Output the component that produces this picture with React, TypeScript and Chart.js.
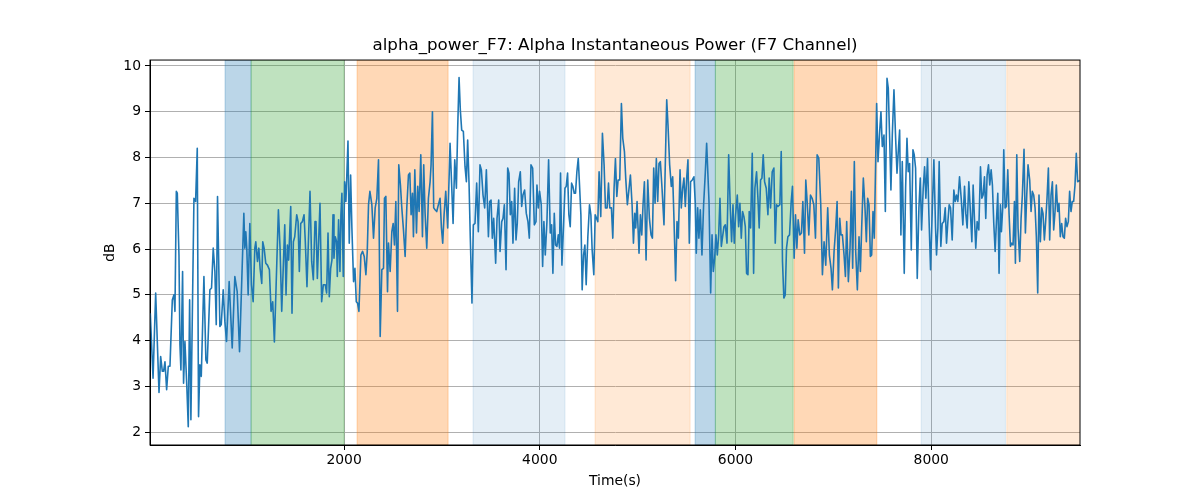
import React, { useEffect, useRef } from 'react';
import Chart from 'chart.js/auto';

// time (s) of each sample
const times = [
  20, 48, 75, 109, 126, 143, 156, 170, 187, 204, 221, 245, 262, 272, 286, 296, 313, 323, 333, 350,
  360, 374, 394, 408, 422, 435, 466, 483, 500, 513, 527, 541, 568, 588, 602, 629, 646, 663, 680, 694,
  707, 731, 745, 765, 782, 799, 826, 857, 884, 908, 932, 976, 986, 996, 1006, 1020, 1037, 1054, 1071, 1088,
  1098, 1115, 1129,
  1142, 1159, 1169, 1183, 1200, 1217, 1237, 1254, 1271, 1288, 1305, 1329, 1346, 1363, 1394, 1407, 1421, 1434, 1455, 1468,
  1482, 1496, 1516, 1530, 1543, 1557, 1574, 1591, 1604, 1621, 1652, 1669, 1686, 1703, 1713, 1727, 1754, 1771, 1788, 1808,
  1822, 1836, 1849, 1863, 1876, 1887, 1897, 1910, 1924, 1931, 1944, 1958, 1968, 1978, 1992, 2006, 2019, 2040, 2053, 2067,
  2080, 2097, 2111, 2125, 2138, 2152, 2172, 2189, 2206, 2223, 2237, 2250, 2264,
  2284, 2301, 2318, 2335, 2352, 2369, 2386, 2403, 2413, 2427, 2444, 2454, 2471, 2488, 2502, 2515, 2529, 2546, 2559, 2576,
  2590, 2607, 2624, 2641, 2658, 2672, 2685, 2699, 2709, 2723, 2740, 2753, 2767, 2784, 2801, 2814, 2828, 2845, 2862, 2879,
  2889, 2903, 2916, 2930, 2947, 2964, 2981, 2995, 3008, 3022, 3039, 3059, 3083, 3100, 3114, 3131, 3148, 3161, 3175, 3188,
  3202, 3219, 3236, 3250, 3263, 3277, 3290, 3307, 3321, 3338, 3355, 3372, 3389, 3403, 3420, 3437,
  3454, 3475, 3488, 3502, 3515, 3529, 3549, 3563, 3580, 3594, 3611, 3624, 3638, 3655, 3672, 3685, 3699, 3713, 3726, 3743,
  3757, 3770, 3784, 3801, 3815, 3828, 3845, 3862, 3879, 3893, 3910, 3927, 3944, 3961, 3971, 3985, 3998, 4015, 4029, 4042,
  4056, 4073, 4090, 4107, 4121, 4134, 4148, 4161, 4175, 4189, 4202, 4212, 4226, 4243, 4257, 4270, 4284, 4297, 4311, 4325,
  4338, 4352, 4365, 4379, 4393, 4406, 4420, 4433, 4447, 4461, 4474, 4491, 4508, 4522, 4535, 4552, 4566,
  4593, 4606, 4623, 4640, 4657, 4671, 4688, 4702, 4715, 4732, 4746, 4759, 4773, 4787, 4800, 4817, 4834, 4848, 4865, 4878,
  4895, 4909, 4926, 4943, 4957, 4970, 4980, 4994, 5004, 5014, 5028, 5042, 5055, 5069, 5086, 5103, 5120, 5137, 5151, 5164,
  5178, 5191, 5205, 5218, 5232, 5249, 5269, 5283, 5297, 5310, 5327, 5344, 5358, 5371, 5388, 5402, 5416, 5433, 5446, 5460,
  5473, 5487, 5501, 5514, 5528, 5541, 5558, 5575, 5589, 5599, 5613, 5626, 5640, 5657, 5674, 5691, 5705,
  5729, 5746, 5760, 5773, 5787, 5800, 5814, 5828, 5841, 5855, 5868, 5882, 5896, 5913, 5930, 5947, 5960, 5974, 5987, 6001,
  6018, 6032, 6045, 6059, 6072, 6086, 6100, 6113, 6127, 6140, 6154, 6171, 6185, 6198, 6215, 6229, 6242, 6256, 6270, 6283,
  6297, 6314, 6331, 6344, 6358, 6375, 6392, 6406, 6419, 6433, 6453, 6467, 6480, 6494, 6508, 6521, 6535, 6552, 6569, 6582,
  6599, 6613, 6627, 6640, 6657, 6674, 6688, 6705, 6718, 6732, 6749, 6766, 6783, 6800, 6817, 6834, 6851,
  6871, 6888, 6905, 6922, 6942, 6959, 6976, 6990, 7007, 7024, 7038, 7051, 7065, 7078, 7092, 7109, 7123, 7136, 7153, 7170,
  7184, 7197, 7214, 7228, 7245, 7262, 7276, 7289, 7306, 7323, 7337, 7350, 7364, 7378, 7391, 7405, 7418, 7432, 7442, 7456,
  7473, 7486, 7500, 7517, 7531, 7548, 7561, 7575, 7588, 7602, 7619, 7636, 7650, 7663, 7677, 7690, 7704, 7724, 7738, 7752,
  7765, 7779, 7796, 7813, 7826, 7840, 7857, 7874, 7888, 7901, 7918, 7932, 7945, 7962, 7976, 7993, 8010, 8027, 8044, 8054,
  8068, 8081, 8098, 8112,
  8129, 8143, 8156, 8170, 8183, 8197, 8214, 8231, 8245, 8258, 8272, 8289, 8306, 8323, 8340, 8353, 8367, 8384, 8398, 8415,
  8428, 8442, 8455, 8469, 8486, 8503, 8517, 8530, 8544, 8557, 8571, 8585, 8598, 8612, 8625, 8639, 8653, 8666, 8680, 8693,
  8707, 8717, 8731, 8741, 8755, 8768, 8782, 8795, 8809, 8823, 8836, 8850, 8860, 8874, 8887, 8904, 8918, 8931, 8948, 8962,
  8976, 8989, 9006, 9020, 9033, 9047, 9061, 9074, 9088, 9101, 9115, 9129, 9142, 9156, 9169, 9183, 9197, 9210, 9224, 9238,
  9251, 9265, 9278, 9292, 9305, 9319, 9333, 9346, 9360, 9373, 9387, 9401, 9414, 9428, 9441, 9455, 9469, 9482, 9496, 9515,
];

// alpha power in dB, one per entry of times
const power = [
  4.6, 3.18, 5.04, 2.87, 3.65, 3.33, 3.33, 3.54, 2.93, 3.44, 3.44, 4.89, 5.0, 4.64, 7.26, 7.22, 5.87, 3.91, 3.36, 5.51,
  3.07, 3.98, 2.96, 2.12, 4.89, 2.27, 7.11, 7.04, 8.2, 2.34, 3.47, 3.22, 5.4, 3.58, 3.51, 5.11, 5.15, 6.02, 5.51, 4.35,
  7.15, 4.31, 4.35, 5.11, 4.42, 3.98, 5.29, 3.84, 5.4, 5.07, 3.76, 6.78, 6.02, 6.38, 6.02, 5.0, 6.56, 5.22, 4.85, 6.02,
  6.16, 5.73, 6.02,
  5.58, 5.25, 6.16, 6.02, 5.69, 5.65, 5.55, 4.64, 4.85, 3.97, 5.15, 6.86, 6.02, 4.64, 6.53, 5.0, 6.09, 5.76, 6.93, 4.6,
  6.16, 6.27, 6.75, 6.6, 5.51, 6.56, 6.6, 6.75, 6.16, 5.18, 7.26, 5.73, 5.33, 6.6, 6.6, 5.36, 7.0, 4.85, 5.22, 5.22,
  5.04, 6.35, 4.96, 5.58, 5.76, 6.75, 5.8, 6.27, 6.16, 5.4, 6.64, 5.51, 6.75, 7.22, 5.4, 7.47, 7.04, 8.36, 6.13, 7.62,
  6.46, 5.29, 5.58, 4.85, 4.82, 4.64, 5.87, 5.95, 5.84, 5.44, 5.95, 6.97, 7.26,
  6.97, 6.24, 6.9, 7.11, 7.95, 4.09, 5.55, 5.58, 7.11, 7.15, 5.07, 6.13, 5.51, 6.38, 6.56, 6.09, 7.04, 4.64, 7.84, 7.4,
  6.9, 6.42, 5.84, 6.9, 7.62, 7.66, 6.75, 7.22, 6.27, 7.73, 6.35, 7.37, 6.82, 8.06, 6.27, 7.84, 6.78, 6.02, 7.11, 7.47,
  7.84, 9.0, 6.9, 6.86, 6.82, 6.97, 7.11, 6.46, 6.13, 6.75, 7.26, 6.46, 8.31, 7.37, 6.56, 7.95, 7.33, 8.64, 9.75, 9.04,
  8.6, 8.57, 7.8, 7.47, 8.38, 7.44, 6.24, 4.82, 6.53, 6.56, 7.44, 6.38, 7.84, 7.73, 7.18, 6.9,
  7.73, 6.27, 7.04, 7.07, 6.24, 6.67, 5.69, 6.67, 7.07, 5.95, 6.6, 6.67, 6.97, 5.55, 7.77, 7.66, 6.75, 7.04, 6.13, 7.33,
  6.2, 6.56, 7.47, 7.69, 6.93, 7.18, 7.29, 6.78, 6.6, 6.24, 7.84, 7.77, 6.53, 6.6, 7.4, 6.9, 7.26, 6.97, 5.62, 6.6,
  5.87, 6.6, 7.95, 6.35, 6.53, 5.47, 6.78, 6.09, 6.06, 6.31, 6.02, 7.66, 5.65, 6.53, 7.33, 7.37, 7.66, 6.75, 6.49, 7.44,
  7.37, 7.22, 7.22, 7.69, 7.98, 7.4, 6.75, 5.11, 5.87, 6.09, 5.22, 6.27, 6.97, 6.75, 5.98, 5.44, 6.75,
  6.6, 7.69, 6.71, 8.53, 7.84, 6.9, 6.9, 7.44, 6.9, 6.9, 6.24, 7.33, 7.98, 7.15, 7.51, 7.51, 9.18, 8.42, 8.13, 7.55,
  6.97, 7.26, 7.62, 6.97, 6.13, 6.78, 6.46, 7.04, 6.46, 5.91, 6.75, 6.31, 6.97, 7.47, 5.76, 7.51, 6.67, 6.31, 6.24, 7.77,
  7.0, 7.98, 7.04, 7.87, 7.91, 7.33, 6.53, 7.91, 9.26, 8.71, 7.84, 7.37, 7.58, 6.67, 5.31, 6.6, 6.24, 7.73, 6.9, 7.33,
  7.55, 6.93, 7.55, 7.95, 6.13, 7.47, 7.51, 7.58, 7.0, 5.91, 6.9, 6.24, 6.86, 5.87, 6.97, 7.66, 8.31,
  7.04, 5.04, 6.31, 5.51, 5.8, 6.31, 5.87, 6.31, 7.11, 6.06, 6.27, 6.49, 6.53, 6.13, 8.06, 6.86, 6.16, 6.97, 6.13, 6.75,
  7.18, 6.49, 7.0, 6.24, 6.82, 6.71, 6.49, 5.47, 5.44, 6.82, 6.46, 8.09, 5.47, 7.33, 7.69, 7.11, 6.46, 7.51, 7.55, 8.06,
  7.47, 7.33, 6.75, 7.55, 6.9, 7.69, 7.77, 6.13, 6.97, 6.93, 6.97, 8.13, 5.73, 4.93, 5.0, 6.02, 6.27, 6.31, 7.04, 7.37,
  5.8, 6.75, 6.02, 6.64, 6.31, 6.35, 7.04, 5.91, 7.51, 7.04, 6.31, 7.18, 7.11, 6.97, 6.24, 8.06, 7.98,
  6.97, 5.44, 6.16, 5.65, 6.9, 5.87, 5.58, 5.11, 5.95, 6.46, 7.04, 5.15, 6.67, 6.31, 6.31, 5.87, 5.4, 6.6, 5.29, 6.02,
  7.26, 5.58, 7.91, 5.95, 5.11, 6.27, 5.51, 6.46, 7.55, 6.9, 6.16, 7.11, 6.97, 5.84, 5.87, 6.82, 6.24, 7.91, 9.18, 7.91,
  8.57, 9.0, 8.24, 8.49, 6.82, 9.73, 9.51, 8.42, 7.29, 8.49, 9.48, 8.42, 7.66, 8.13, 8.6, 6.31, 7.91, 5.47, 7.33, 8.42,
  7.69, 7.87, 5.98, 8.17, 8.06, 7.77, 5.36, 6.9, 7.55, 6.42, 7.33, 7.8, 7.11, 7.98, 6.75, 5.55, 6.82, 7.95, 6.46, 5.87,
  6.46, 7.91, 6.06, 6.56,
  6.6, 6.9, 6.13, 6.6, 6.97, 6.9, 6.2, 7.29, 7.04, 7.18, 7.04, 7.58, 7.11, 6.53, 7.37, 6.78, 6.46, 7.47, 6.9, 6.16,
  7.4, 6.64, 6.02, 6.6, 6.42, 7.8, 7.11, 7.18, 7.58, 6.67, 7.62, 7.84, 7.4, 7.73, 7.4, 6.56, 5.95, 6.6, 7.22, 5.47,
  6.97, 6.38, 6.93, 8.17, 6.9, 6.93, 7.73, 6.78, 6.06, 6.13, 6.09, 7.04, 5.69, 8.06, 6.46, 5.73, 6.67, 7.18, 8.18, 6.35,
  7.18, 7.84, 7.51, 6.82, 7.26, 7.18, 6.9, 6.27, 5.04, 7.18, 6.16, 6.9, 6.78, 6.2, 6.6, 7.11, 7.77, 6.2, 7.18, 7.47,
  6.42, 6.82, 7.4, 6.82, 7.0, 6.27, 6.56, 6.27, 6.24, 6.67, 6.49, 6.6, 7.26, 6.82, 7.04, 7.04, 7.4, 8.09, 7.47, 7.5,
];

// shaded task periods (start / end in seconds) and their kind
const bandStart = [784, 1050, 2133, 3318, 4565, 5587, 5794, 6599, 7897, 8772];
const bandEnd = [1050, 2000, 3063, 4258, 5536, 5794, 6589, 7444, 8758, 9600];
const bandKind = ['blue', 'green', 'orange', 'paleBlue', 'paleOrange', 'blue', 'green', 'orange', 'paleBlue', 'paleOrange'];

const xTicks = [2000, 4000, 6000, 8000];
const yTicks = [2, 3, 4, 5, 6, 7, 8, 9, 10];

const bandFill: Record<string, string> = {
  blue: 'rgba(31,119,180,0.3)',
  green: 'rgba(44,160,44,0.3)',
  orange: 'rgba(255,127,14,0.3)',
  paleBlue: 'rgba(31,119,180,0.12)',
  paleOrange: 'rgba(255,127,14,0.17)',
};

const FONT = 'DejaVu Sans';

const bandPlugin = {
  id: 'bands',
  beforeDatasetsDraw(chart: any) {
    const { ctx, chartArea, scales } = chart;
    const x = scales.x;
    ctx.save();
    ctx.beginPath();
    ctx.rect(chartArea.left, chartArea.top, chartArea.right - chartArea.left, chartArea.bottom - chartArea.top);
    ctx.clip();
    bandStart.forEach((s, i) => {
      const x0 = x.getPixelForValue(s);
      const x1 = x.getPixelForValue(bandEnd[i]);
      const c = bandFill[bandKind[i]];
      ctx.fillStyle = c;
      ctx.fillRect(x0, chartArea.top, x1 - x0, chartArea.bottom - chartArea.top);
      // matplotlib draws the span edge in the same translucent colour
      ctx.strokeStyle = c;
      ctx.lineWidth = 1;
      ctx.strokeRect(x0, chartArea.top, x1 - x0, chartArea.bottom - chartArea.top);
    });
    ctx.restore();
  },
};

const framePlugin = {
  id: 'frame',
  afterDraw(chart: any) {
    const { ctx, chartArea } = chart;
    ctx.save();
    ctx.strokeStyle = '#000';
    ctx.lineWidth = 1;
    ctx.strokeRect(chartArea.left, chartArea.top, chartArea.right - chartArea.left, chartArea.bottom - chartArea.top);
    ctx.restore();
  },
};

const App: React.FC = () => {
  const canvasRef = useRef<HTMLCanvasElement | null>(null);

  useEffect(() => {
    document.body.style.margin = '0';
    if (!canvasRef.current) return;
    const ctx = canvasRef.current.getContext('2d');
    if (!ctx) return;

    const chart = new Chart(ctx, {
      type: 'line',
      data: {
        datasets: [{
          label: 'alpha_power_F7',
          data: times.map((t, i) => ({ x: t, y: power[i] })),
          borderColor: '#1f77b4',
          borderWidth: 1.6,
          borderJoinStyle: 'round',
          pointRadius: 0,
          tension: 0,
          fill: false,
        }],
      },
      options: {
        responsive: false,
        animation: false,
        // left padding + right spacer axis keep the title centred over the plot
        layout: { padding: { left: 30, right: 0, top: 8, bottom: 0 } },
        plugins: {
          legend: { display: false },
          tooltip: { enabled: false },
          title: {
            display: true,
            text: 'alpha_power_F7: Alpha Instantaneous Power (F7 Channel)',
            color: '#000',
            font: { family: FONT, size: 16.7, weight: 'normal', lineHeight: 1.2 },
            padding: { top: 28, bottom: 4 },
          },
        },
        scales: {
          x: {
            type: 'linear',
            min: 17,
            max: 9520,
            afterFit: (s: any) => { s.height = 55; },
            afterBuildTicks: (s: any) => { s.ticks = xTicks.map(v => ({ value: v })); },
            ticks: {
              color: '#000',
              font: { family: FONT, size: 13.9 },
              padding: 2,
              maxRotation: 0,
              callback: (v: any) => String(v),
            },
            grid: { color: '#b0b0b0', lineWidth: 1, drawTicks: true, tickLength: 5, tickColor: '#000' },
            border: { display: true, color: '#000', width: 1 },
            title: {
              display: true,
              text: 'Time(s)',
              color: '#000',
              font: { family: FONT, size: 13.9, lineHeight: 1.2 },
              padding: { top: 0, bottom: 10.7 },
            },
          },
          y: {
            min: 1.72,
            max: 10.13,
            afterFit: (s: any) => { s.width = 120; },
            afterBuildTicks: (s: any) => { s.ticks = yTicks.map(v => ({ value: v })); },
            ticks: {
              color: '#000',
              font: { family: FONT, size: 13.9 },
              padding: 4,
              callback: (v: any) => String(v),
            },
            grid: { color: '#b0b0b0', lineWidth: 1, drawTicks: true, tickLength: 5, tickColor: '#000' },
            border: { display: true, color: '#000', width: 1 },
            title: {
              display: true,
              text: 'dB',
              color: '#000',
              font: { family: FONT, size: 13.9, lineHeight: 1.2 },
              padding: { top: 71.7, bottom: 0 },
            },
          },
          spacer: {
            type: 'linear',
            position: 'right',
            display: true,
            afterFit: (s: any) => { s.width = 120; },
            ticks: { display: false },
            grid: { display: false, drawTicks: false },
            border: { display: false },
          },
        },
      },
      plugins: [bandPlugin, framePlugin],
    });

    return () => {
      chart.destroy();
    };
  }, []);

  return (
    <div style={{ width: 1200, height: 500 }}>
      <canvas ref={canvasRef} width={1200} height={500}></canvas>
    </div>
  );
};

export default App;
